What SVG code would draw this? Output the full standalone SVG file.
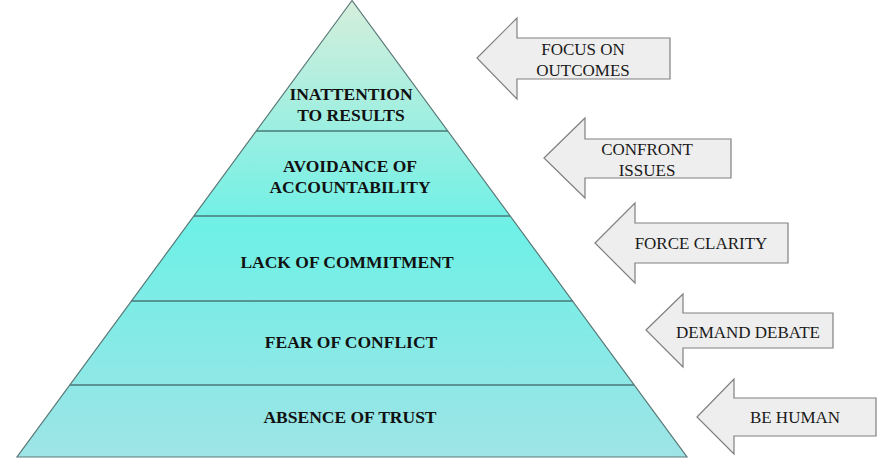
<svg xmlns="http://www.w3.org/2000/svg" width="885" height="466" viewBox="0 0 885 466">
<style>
.lvl{font-family:"Liberation Serif","Times New Roman",serif;font-weight:bold;font-size:17.5px;fill:#111;text-anchor:middle}
.arr{fill:#eeeeee;stroke:#808080;stroke-width:1.2}
.at{font-family:"Liberation Serif","Times New Roman",serif;font-size:17px;fill:#1a1a1a;text-anchor:middle}
.sep{stroke:#4a7878;stroke-width:1.3}
</style>
<defs>
<linearGradient id="g" x1="0" y1="0" x2="0" y2="457" gradientUnits="userSpaceOnUse">
<stop offset="0" stop-color="#d6eedb"/>
<stop offset="0.5" stop-color="#6ef0e6"/>
<stop offset="1" stop-color="#9ee4e6"/>
</linearGradient>
</defs>
<g id="pyramid">
<polygon points="352,0.5 17,457 687,457" fill="url(#g)" stroke="#5a7878" stroke-width="1.2"/>
<line class="sep" x1="256" y1="131" x2="448" y2="131"/>
<line class="sep" x1="194" y1="216" x2="510" y2="216"/>
<line class="sep" x1="131" y1="301" x2="573" y2="301"/>
<line class="sep" x1="70" y1="385" x2="634" y2="385"/>
</g>
<g id="level5"><text class="lvl" x="351" y="100">INATTENTION</text><text class="lvl" x="351" y="121">TO RESULTS</text></g>
<g id="level4"><text class="lvl" x="350" y="172">AVOIDANCE OF</text><text class="lvl" x="350" y="193">ACCOUNTABILITY</text></g>
<g id="level3"><text class="lvl" x="347" y="268">LACK OF COMMITMENT</text></g>
<g id="level2"><text class="lvl" x="351" y="348">FEAR OF CONFLICT</text></g>
<g id="level1"><text class="lvl" x="350" y="423">ABSENCE OF TRUST</text></g>
<g id="connectors">
<g id="a1"><polygon class="arr" points="477,58 517,18 517,38 670,38 670,79 517,79 517,99"/><text class="at" x="583" y="55">FOCUS ON</text><text class="at" x="583" y="76">OUTCOMES</text></g>
<g id="a2"><polygon class="arr" points="544,158 585,118 585,139 731,139 731,178 585,178 585,198"/><text class="at" x="647" y="155">CONFRONT</text><text class="at" x="647" y="176">ISSUES</text></g>
<g id="a3"><polygon class="arr" points="595,243 635,203 635,223 788,223 788,263 635,263 635,283"/><text class="at" x="701" y="249">FORCE CLARITY</text></g>
<g id="a4"><polygon class="arr" points="646,330 683,294 683,313 833,313 833,348 683,348 683,367"/><text class="at" x="748" y="338">DEMAND DEBATE</text></g>
<g id="a5"><polygon class="arr" points="697,417 734,379 734,398 876,398 876,436 734,436 734,454"/><text class="at" x="795" y="423">BE HUMAN</text></g>
</g>
</svg>
